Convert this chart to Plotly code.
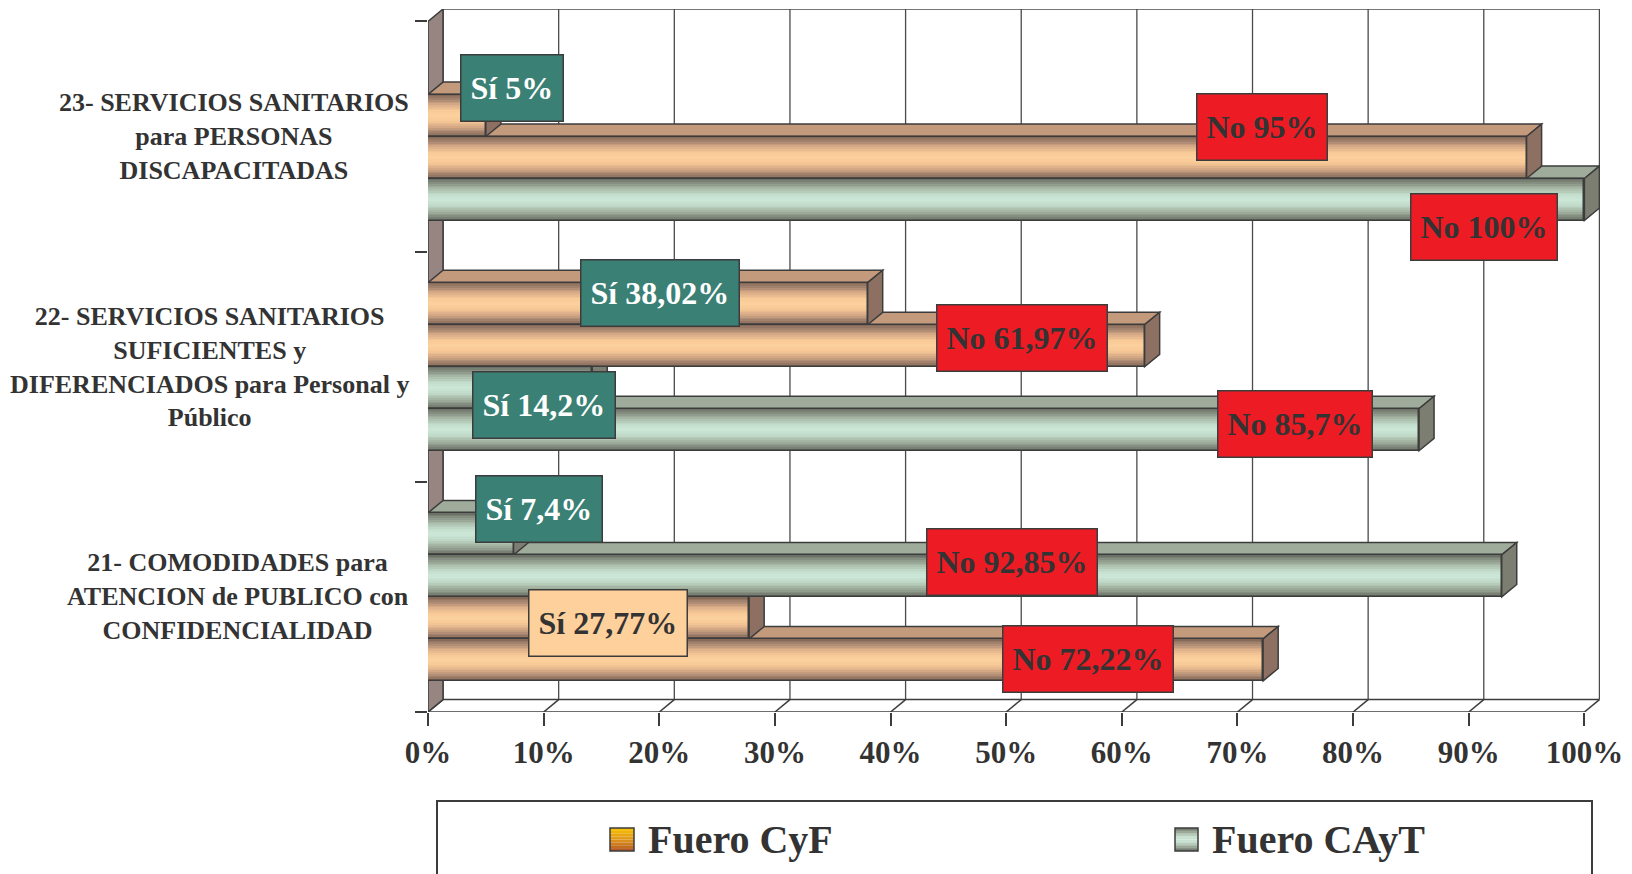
import plotly.graph_objects as go
import numpy as np

# datos
categorias = [
    "21- COMODIDADES para<br>ATENCION de PUBLICO con<br>CONFIDENCIALIDAD",
    "22- SERVICIOS SANITARIOS<br>SUFICIENTES y<br>DIFERENCIADOS para Personal y<br>Público",
    "23- SERVICIOS SANITARIOS<br>para PERSONAS<br>DISCAPACITADAS",
]
cyf_si = [27.77, 38.02, 5]
cyf_no = [72.22, 61.97, 95]
cayt_si = [7.4, 14.2, 0]
cayt_no = [92.85, 85.7, 100]
ticks_x = [0, 10, 20, 30, 40, 50, 60, 70, 80, 90, 100]
ticks_txt = [f"{t}%" for t in ticks_x]
leyenda = ["Fuero CyF", "Fuero CAyT"]

# orden de las barras en cada categoria, de arriba a abajo
orden = [
    ["cayt_si", "cayt_no", "cyf_si", "cyf_no"],
    ["cyf_si", "cyf_no", "cayt_si", "cayt_no"],
    ["cayt_si", "cyf_si", "cyf_no", "cayt_no"],
]
series = {
    "cyf_si": ("Sí", "cyf", cyf_si),
    "cyf_no": ("No", "cyf", cyf_no),
    "cayt_si": ("Sí", "cayt", cayt_si),
    "cayt_no": ("No", "cayt", cayt_no),
}

# desplazamiento de cada etiqueta respecto al extremo de su barra (px)
desp = {
    ("cyf_si", 2): (26, 28), ("cyf_no", 2): (-265, 31), ("cayt_no", 2): (-100, -27),
    ("cyf_si", 1): (-208, 11), ("cyf_no", 1): (-123, 8), ("cayt_si", 1): (-48, -17),
    ("cayt_no", 1): (-124, 6), ("cayt_si", 0): (25, 25), ("cayt_no", 0): (-490, 14),
    ("cyf_si", 0): (-141, -5), ("cyf_no", 0): (-175, 1),
}

# estilo
FONT = "Liberation Serif"
TXT = "#333333"
EDGE = "#3c3c3c"
BW = 0.1825          # alto de cada barra
DX, DY = 1.3, 0.054  # profundidad 3D
OFF = 8              # margen del body de la pagina
L, T, PW, PH = 428 - OFF, 9 - OFF, 1172, 703

grad = {
    "cyf": [(0, "#fdd19e"), (0.25, "#f6c896"), (0.5, "#dcae89"), (0.75, "#ab8872"), (1, "#7d6454")],
    "cayt": [(0, "#cde8d8"), (0.25, "#c2dccb"), (0.5, "#abbdab"), (0.75, "#8b9587"), (1, "#656a60")],
}
cara_sup = {"cyf": "#c49a7c", "cayt": "#9fac9b"}
cara_fin = {"cyf": "#8e7062", "cayt": "#7b7e70"}


def hex2rgb(h):
    return np.array([int(h[i:i + 2], 16) for i in (1, 3, 5)], dtype=float)


def mezcla(stops, t):
    pos = [s[0] for s in stops]
    cols = np.array([hex2rgb(s[1]) for s in stops])
    c = [np.interp(t, pos, cols[:, k]) for k in range(3)]
    return "rgb(%d,%d,%d)" % tuple(int(round(v)) for v in c)


fig = go.Figure()

# posiciones de cada barra
barras = []
for ci, fila in enumerate(orden):
    for k, key in enumerate(fila):
        y = ci + (1.5 - k) * BW
        barras.append((key, ci, y, series[key][2][ci]))

# caras frontales con degradado (barras concentricas)
N = 12
for key in series:
    fuero = series[key][1]
    ys = [b[2] for b in barras if b[0] == key]
    xs = [b[3] for b in barras if b[0] == key]
    for i in range(N):
        f = 1 - i / N
        fig.add_trace(go.Bar(
            x=xs, y=ys, base=0, orientation="h", width=BW * f,
            marker=dict(color=mezcla(grad[fuero], f - 0.5 / N), line=dict(width=0)),
            showlegend=False, hoverinfo="skip",
        ))
    fig.add_trace(go.Bar(
        x=xs, y=ys, base=0, orientation="h", width=BW,
        marker=dict(color="rgba(0,0,0,0)", line=dict(width=1.5, color=EDGE)),
        showlegend=False, hoverinfo="skip",
    ))

shapes = []
# pared del fondo y rejilla
for t in ticks_x:
    shapes.append(dict(type="line", xref="x", yref="y", x0=t + DX, x1=t + DX,
                       y0=-0.5 + DY, y1=2.5 + DY, line=dict(color="#4a4a4a", width=1.3), layer="below"))
    shapes.append(dict(type="line", xref="x", yref="y", x0=t, x1=t + DX,
                       y0=-0.5, y1=-0.5 + DY, line=dict(color=EDGE, width=1.5), layer="below"))
shapes.append(dict(type="line", xref="x", yref="y", x0=DX, x1=100 + DX, y0=2.5 + DY, y1=2.5 + DY,
                   line=dict(color="#4a4a4a", width=1.3), layer="below"))
shapes.append(dict(type="line", xref="x", yref="y", x0=DX, x1=100 + DX, y0=-0.5 + DY, y1=-0.5 + DY,
                   line=dict(color=EDGE, width=1.5), layer="below"))
shapes.append(dict(type="line", xref="x", yref="y", x0=0, x1=100, y0=-0.5, y1=-0.5,
                   line=dict(color=EDGE, width=1.5), layer="below"))
# pared izquierda
shapes.append(dict(type="path", xref="x", yref="y",
                   path=f"M 0,-0.5 L {DX},{-0.5 + DY} L {DX},{2.5 + DY} L 0,2.5 Z",
                   fillcolor="#968580", line=dict(color=EDGE, width=1.5), layer="below"))

# caras superior y final, de abajo hacia arriba
for key, ci, y, v in sorted(barras, key=lambda b: b[2]):
    if v <= 0:
        continue
    fuero = series[key][1]
    yt, yb = y + BW / 2, y - BW / 2
    shapes.append(dict(type="path", xref="x", yref="y",
                       path=f"M 0,{yt} L {v},{yt} L {v + DX},{yt + DY} L {DX},{yt + DY} Z",
                       fillcolor=cara_sup[fuero], line=dict(color=EDGE, width=1.5), layer="below"))
    shapes.append(dict(type="path", xref="x", yref="y",
                       path=f"M {v},{yb} L {v + DX},{yb + DY} L {v + DX},{yt + DY} L {v},{yt} Z",
                       fillcolor=cara_fin[fuero], line=dict(color=EDGE, width=1.5), layer="below"))


# pixel de la imagen -> coordenadas paper
def px(p):
    return (p - OFF - L) / PW


def py(p):
    return (T + PH - (p - OFF)) / PH


# leyenda dibujada
shapes.append(dict(type="rect", xref="paper", yref="paper", x0=px(437), x1=px(1592),
                   y0=py(910), y1=py(801), line=dict(color=EDGE, width=2), fillcolor="white"))
sw_cyf = [(0, "#f7c200"), (0.5, "#e0961a"), (1, "#b0521f")]
nb = 8
for j in range(nb):
    t = (j + 0.5) / nb
    y0 = 828 + j * 23 / nb
    shapes.append(dict(type="rect", xref="paper", yref="paper", x0=px(610), x1=px(634),
                       y0=py(y0 + 23 / nb), y1=py(y0), line=dict(width=0),
                       fillcolor=mezcla(sw_cyf, t)))
    shapes.append(dict(type="rect", xref="paper", yref="paper", x0=px(1175), x1=px(1198),
                       y0=py(y0 + 23 / nb), y1=py(y0), line=dict(width=0),
                       fillcolor=mezcla(grad["cayt"], abs(2 * t - 1))))
for x0, x1 in [(610, 634), (1175, 1198)]:
    shapes.append(dict(type="rect", xref="paper", yref="paper", x0=px(x0), x1=px(x1),
                       y0=py(851), y1=py(828), line=dict(color=EDGE, width=1.5)))

ann = []
for nombre, xl in zip(leyenda, [646, 1210]):
    ann.append(dict(xref="paper", yref="paper", x=px(xl), y=py(839), xanchor="left", yanchor="middle",
                    text=nombre, showarrow=False,
                    font=dict(family=FONT, size=40, color=TXT, weight="bold")))

# etiquetas de categoria
for ci, cat in enumerate(categorias):
    ann.append(dict(xref="paper", yref="y", x=0, y=ci, xanchor="right", yanchor="middle",
                    xshift=-17, text=cat, align="center", showarrow=False,
                    font=dict(family=FONT, size=26, color=TXT, weight="bold")))

# etiquetas de datos
for key, ci, y, v in barras:
    if v <= 0:
        continue
    resp = series[key][0]
    texto = f"{resp} {v:g}%".replace(".", ",")
    if resp == "No":
        bg, fc = "#ed1c24", TXT
    elif key == "cyf_si" and ci == 0:
        bg, fc = "#fdd09c", TXT
    else:
        bg, fc = "#3a8074", "white"
    sx, sy = desp[(key, ci)]
    ann.append(dict(xref="x", yref="y", x=v, y=y, xshift=sx, yshift=sy, text=texto,
                    showarrow=False, bgcolor=bg, bordercolor=EDGE, borderwidth=1.5, borderpad=9,
                    height=47, valign="middle",
                    font=dict(family=FONT, size=32, color=fc, weight="bold")))

fig.update_layout(
    width=1632, height=874,
    margin=dict(l=L, r=1632 - L - PW, t=T, b=874 - T - PH),
    paper_bgcolor="white", plot_bgcolor="white",
    barmode="overlay", bargap=0,
    shapes=shapes, annotations=ann, showlegend=False,
    xaxis=dict(range=[0, 100 + DX + 0.05], tickvals=ticks_x, ticktext=ticks_txt,
               ticks="outside", ticklen=13, tickwidth=1.5, tickcolor=EDGE, automargin=False,
               showgrid=False, zeroline=False, showline=False,
               tickfont=dict(family=FONT, size=31, color=TXT, weight="bold")),
    yaxis=dict(range=[-0.5, 2.5 + DY], tickvals=[-0.5, 0.5, 1.5, 2.5], ticks="outside",
               ticklen=12, tickwidth=1.5, tickcolor=EDGE, showticklabels=False, automargin=False,
               showgrid=False, zeroline=False, showline=False),
)

fig.write_html("out.html")
